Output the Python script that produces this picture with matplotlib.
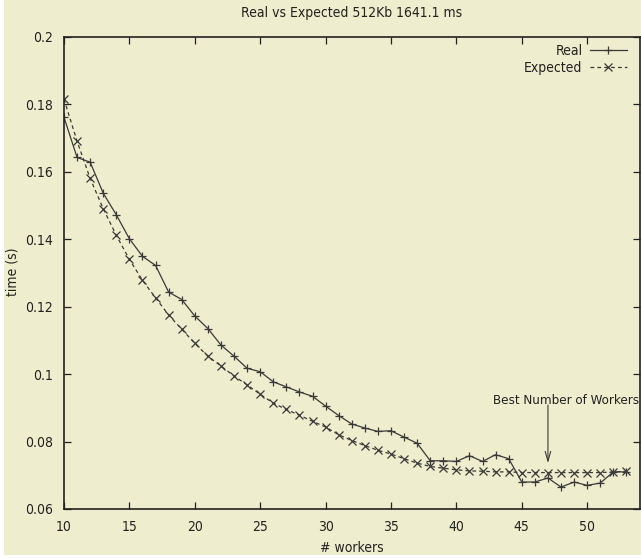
import matplotlib
matplotlib.use('Agg')
import matplotlib.pyplot as plt
from matplotlib.patches import Rectangle

plt.rcParams['font.family'] = ['DejaVu Sans']
plt.rcParams['font.stretch'] = 'condensed'
plt.rcParams['font.size'] = 10

# data
workers = list(range(10, 54))
real = [0.1761, 0.1642, 0.1628, 0.1536, 0.1472, 0.1401, 0.1349, 0.1322, 0.1243, 0.1221,
        0.1172, 0.1135, 0.1086, 0.1053, 0.1017, 0.1007, 0.0977, 0.0962, 0.0947, 0.0934,
        0.0905, 0.0877, 0.0852, 0.0840, 0.0830, 0.0832, 0.0813, 0.0795, 0.0743, 0.0743,
        0.0741, 0.0758, 0.0741, 0.0761, 0.0749, 0.0680, 0.0680, 0.0692, 0.0665, 0.0680,
        0.0670, 0.0677, 0.0710, 0.0710]
expected = [0.1815, 0.1690, 0.1580, 0.1490, 0.1411, 0.1340, 0.1278, 0.1226, 0.1175, 0.1133,
            0.1091, 0.1053, 0.1024, 0.0994, 0.0968, 0.0940, 0.0914, 0.0895, 0.0878, 0.0860,
            0.0843, 0.0820, 0.0803, 0.0788, 0.0774, 0.0763, 0.0749, 0.0736, 0.0726, 0.0721,
            0.0716, 0.0713, 0.0712, 0.0710, 0.0710, 0.0708, 0.0708, 0.0708, 0.0708, 0.0708,
            0.0708, 0.0708, 0.0710, 0.0712]
xticks = [10, 15, 20, 25, 30, 35, 40, 45, 50]
yticks = [0.06, 0.08, 0.1, 0.12, 0.14, 0.16, 0.18, 0.2]
ytick_labels = ['0.06', '0.08', '0.1', '0.12', '0.14', '0.16', '0.18', '0.2']
best_workers = 47

bg = '#EEEDCD'
ink = '#3a3a3a'
txt = '#222222'
fs = 10

W, H = 641, 559
fig = plt.figure(figsize=(W / 100, H / 100), dpi=100, facecolor='white')
# yellowish page with a thin white strip at left and bottom
fig.patches.append(Rectangle((4 / W, 4 / H), 1, 1, transform=fig.transFigure,
                             facecolor=bg, edgecolor='none', zorder=-10))

ax = fig.add_axes([64 / W, 50 / H, (639.5 - 64) / W, (509 - 36.7) / H])
ax.set_facecolor(bg)

ax.plot(workers, real, '-', color=ink, lw=0.9, marker='+', ms=6, mew=0.9, label='Real')
ax.plot(workers, expected, '--', color=ink, lw=0.9, marker='x', ms=5.5, mew=0.9,
        dashes=(3, 2.5), label='Expected')

ax.set_xlim(10, 54)
ax.set_ylim(0.06, 0.2)
ax.set_xticks(xticks)
ax.set_yticks(yticks)
ax.set_yticklabels(ytick_labels)
ax.tick_params(direction='in', length=5, width=0.9, top=True, right=True,
               colors=txt, labelsize=fs)
ax.tick_params(axis='x', pad=8)
ax.tick_params(axis='y', pad=8)
for s in ax.spines.values():
    s.set_linewidth(1.2)
    s.set_color(txt)

ax.set_xlabel('# workers', fontsize=fs, color=txt, labelpad=5)
fig.text(13 / W, 1 - 272 / H, 'time (s)', rotation=90, ha='center', va='center',
         fontsize=fs, color=txt)
fig.text(352 / W, 1 - 13 / H, 'Real vs Expected 512Kb 1641.1 ms', ha='center', va='center',
         fontsize=fs, color=txt)

leg = ax.legend(loc='upper right', bbox_to_anchor=(627 / W, 1 - 44 / H),
                bbox_transform=fig.transFigure, frameon=False, markerfirst=False,
                handlelength=2.7, handletextpad=0.5, labelspacing=0.2,
                borderaxespad=0, borderpad=0, fontsize=fs)
for t in leg.get_texts():
    t.set_color(txt)

# annotation text kept inside the figure edge
fig.text(639 / W, 1 - 401 / H, 'Best Number of Workers', ha='right', va='center',
         fontsize=9.5, color=txt)
ax.annotate('', xy=(best_workers, 0.0736), xytext=(best_workers, 0.0908),
            arrowprops=dict(arrowstyle='->,head_length=0.7,head_width=0.2', color=ink, lw=0.8,
                            shrinkA=0, shrinkB=0))

fig.savefig('out.png', dpi=100, facecolor=fig.get_facecolor())
